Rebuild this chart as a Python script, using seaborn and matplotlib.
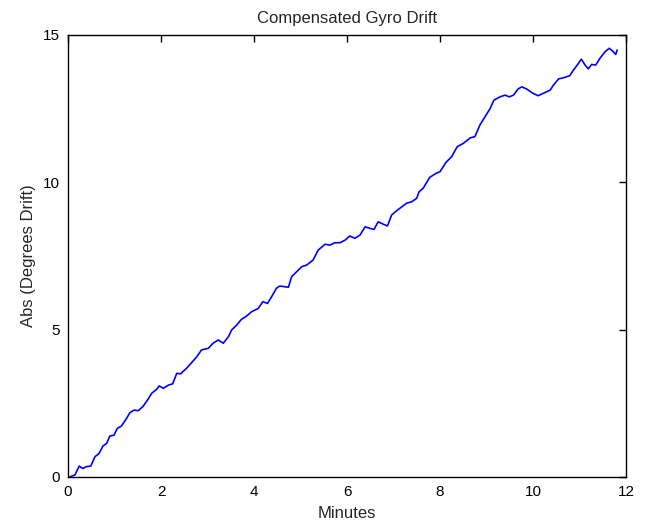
import pandas as pd
import seaborn as sns
import matplotlib.pyplot as plt

# drift readings taken off the trace (minutes, degrees)
minutes = [0.04, 0.08, 0.15, 0.24, 0.32, 0.39, 0.49, 0.58, 0.67, 0.75,
           0.83, 0.90, 0.99, 1.06, 1.15, 1.26, 1.33, 1.42, 1.51, 1.61,
           1.71, 1.80, 1.91, 1.96, 2.05, 2.16, 2.25, 2.34, 2.42, 2.55,
           2.77, 2.87, 3.02, 3.12, 3.23, 3.34, 3.45, 3.52, 3.63, 3.73,
           3.84, 3.95, 4.09, 4.19, 4.29, 4.38, 4.48, 4.55, 4.65, 4.74,
           4.81, 4.92, 5.03, 5.13, 5.27, 5.38, 5.53, 5.63, 5.74, 5.85,
           5.96, 6.06, 6.17, 6.28, 6.39, 6.49, 6.58, 6.67, 6.78, 6.87,
           6.96, 7.07, 7.18, 7.28, 7.39, 7.50, 7.55, 7.64, 7.68, 7.78,
           7.91, 8.00, 8.13, 8.25, 8.37, 8.50, 8.65, 8.75, 8.86, 8.97,
           9.08, 9.16, 9.29, 9.40, 9.49, 9.58, 9.68, 9.76, 9.86, 10.00,
           10.11, 10.22, 10.37, 10.44, 10.55, 10.66, 10.79, 10.87, 10.96, 11.04,
           11.12, 11.19, 11.26, 11.35, 11.44, 11.55, 11.64, 11.71, 11.78, 11.81]
drift = [0.00, 0.03, 0.07, 0.37, 0.29, 0.35, 0.37, 0.69, 0.80, 1.05,
         1.14, 1.39, 1.42, 1.65, 1.73, 1.99, 2.18, 2.27, 2.25, 2.39,
         2.61, 2.84, 2.98, 3.09, 3.01, 3.12, 3.16, 3.52, 3.50, 3.69,
         4.08, 4.31, 4.37, 4.54, 4.65, 4.54, 4.76, 4.99, 5.16, 5.35,
         5.46, 5.61, 5.72, 5.95, 5.89, 6.12, 6.40, 6.48, 6.46, 6.44,
         6.80, 6.97, 7.14, 7.19, 7.36, 7.70, 7.90, 7.87, 7.95, 7.95,
         8.04, 8.18, 8.10, 8.21, 8.49, 8.44, 8.40, 8.66, 8.58, 8.52,
         8.89, 9.04, 9.17, 9.29, 9.34, 9.46, 9.68, 9.80, 9.91, 10.17,
         10.30, 10.36, 10.68, 10.87, 11.21, 11.32, 11.51, 11.55, 11.95, 12.23,
         12.51, 12.79, 12.90, 12.96, 12.90, 12.96, 13.17, 13.24, 13.17, 13.02,
         12.94, 13.02, 13.13, 13.30, 13.51, 13.55, 13.62, 13.81, 14.00, 14.18,
         13.98, 13.85, 14.00, 13.98, 14.21, 14.43, 14.55, 14.46, 14.34, 14.49]

df = pd.DataFrame({'Minutes': minutes, 'Drift': drift})

sns.set_style('white')
plt.rcParams['font.family'] = ['Liberation Sans', 'DejaVu Sans']

fig = plt.figure(figsize=(6.62, 5.24), dpi=100)
ax = fig.add_axes([68 / 662, 1 - 477 / 524, 558 / 662, 442 / 524])
sns.lineplot(data=df, x='Minutes', y='Drift', color='#0000ff', linewidth=1.2,
             estimator=None, ax=ax)

ax.set_xlim(0, 12)
ax.set_ylim(0, 15)
ax.set_xticks([0, 2, 4, 6, 8, 10, 12])
ax.set_yticks([0, 5, 10, 15])
ax.tick_params(direction='in', length=5, width=1, top=True, right=True,
               labelsize=11, colors='black', pad=6)
for s in ax.spines.values():
    s.set_color('black')
    s.set_linewidth(1)
ax.set_title('Compensated Gyro Drift', fontsize=12, pad=9)
ax.set_xlabel('Minutes', fontsize=12, labelpad=5)
ax.set_ylabel('Abs (Degrees Drift)', fontsize=12, labelpad=5)

fig.savefig('out.png', dpi=100)
